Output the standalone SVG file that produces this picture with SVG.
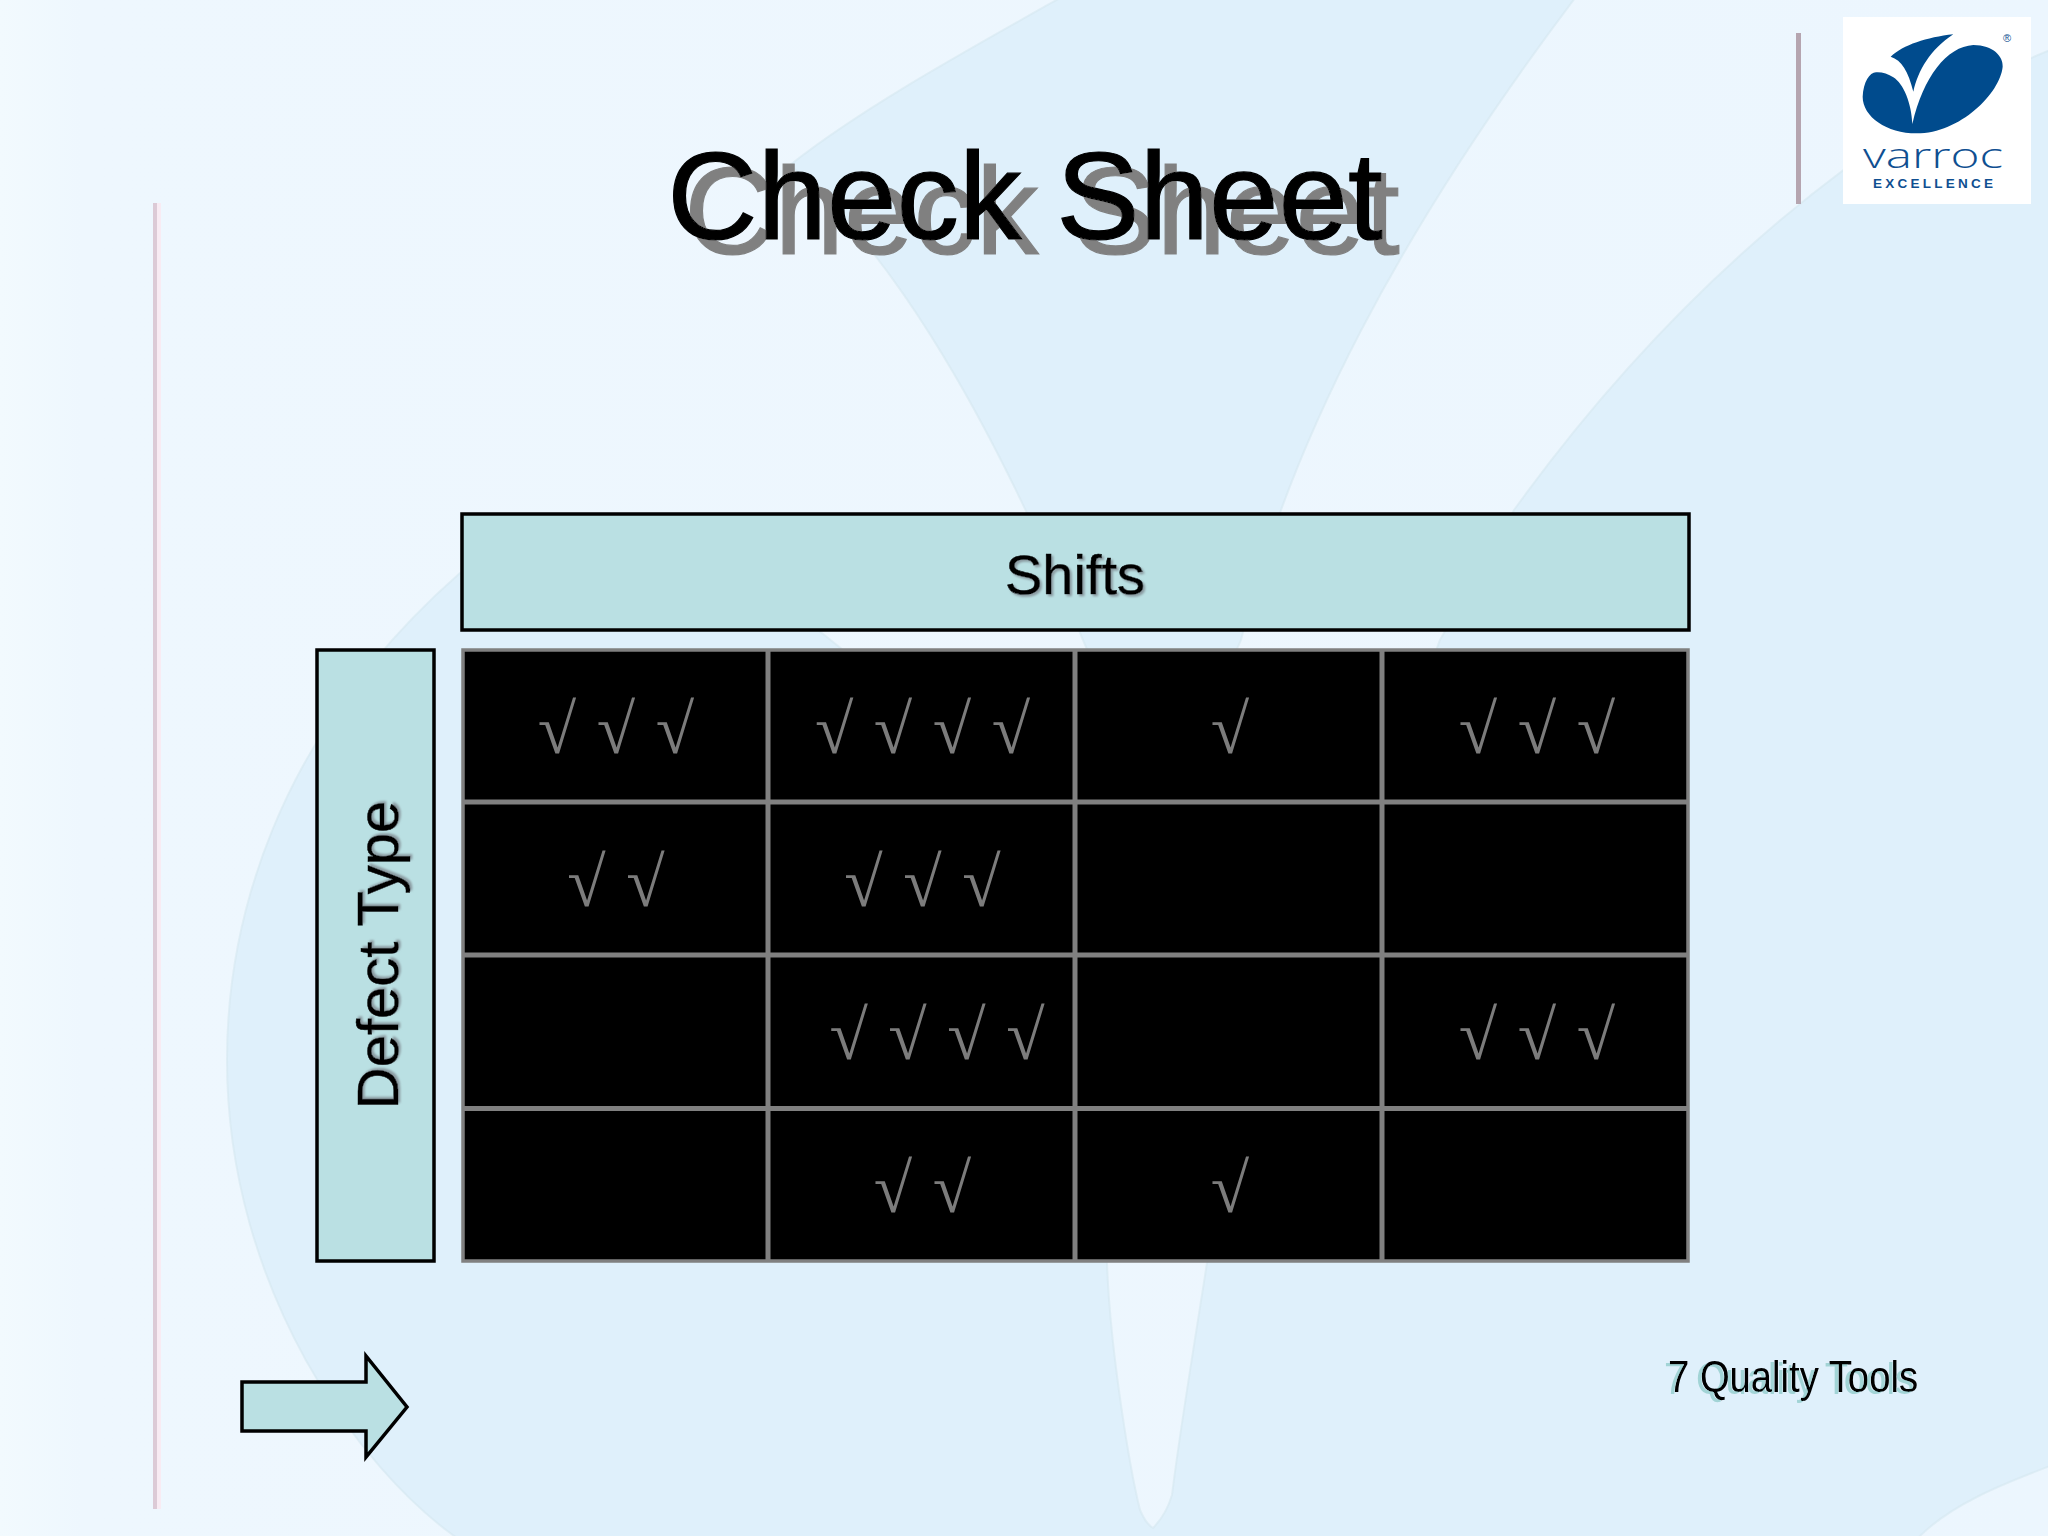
<svg xmlns="http://www.w3.org/2000/svg" width="2048" height="1536" viewBox="0 0 2048 1536">
<defs>
<linearGradient id="edge" x1="0" y1="0" x2="1" y2="0"><stop offset="0" stop-color="#f2fafe"/><stop offset="0.04" stop-color="#eef7fe"/><stop offset="1" stop-color="#ecf6fe"/></linearGradient>
<filter id="titleShadow" x="-10%" y="-20%" width="120%" height="150%"><feDropShadow dx="17" dy="15" stdDeviation="0" flood-color="#808080"/></filter>
<filter id="softShadow" x="-10%" y="-20%" width="120%" height="150%"><feDropShadow dx="2" dy="2" stdDeviation="1" flood-color="#8a9aa0"/></filter>
<filter id="softShadowV" x="-20%" y="-10%" width="150%" height="120%"><feDropShadow dx="2" dy="2" stdDeviation="1" flood-color="#8a9aa0"/></filter>
<filter id="tealShadow" x="-10%" y="-20%" width="120%" height="150%"><feDropShadow dx="-4" dy="2" stdDeviation="0.300" flood-color="#a2d4d6"/></filter>
</defs>
<style>
.wash{fill:#dff0fb;stroke:#d6e7f0;stroke-width:2;stroke-opacity:.6}
.band{fill:#bae0e3;stroke:#000;stroke-width:3.500}
.lbl{font-family:"Liberation Sans",Arial,sans-serif;fill:#000}
.chk{font-family:"Liberation Serif","Times New Roman",serif;font-size:70px;word-spacing:3px;fill:#7c7c7c;text-anchor:middle;white-space:pre}
.grid{stroke:#808080;stroke-width:5;fill:none}
.logoT{font-family:"Liberation Sans",Arial,sans-serif;fill:#0f4f91}
</style>
<g id="background">
<rect width="2048" height="1536" fill="url(#edge)"/>
<path class="wash" d="M457 1538C360 1470 227 1290 227 1060C227 930 270 740 460 573C560 515 700 530 843 650L1107 1263C1110 1350 1130 1470 1140 1510Q1146 1524 1153 1528Q1166 1515 1172 1495C1180 1430 1195 1340 1207 1263L1440 640L1514 510C1680 280 1880 120 2050 50V1466C2000 1485 1950 1505 1918 1538Z"/>
<path class="wash" d="M1060 -2C950 60 860 110 790 165C880 240 980 390 1083 640L1160 820L1241 640C1290 440 1400 230 1575 -2Z"/>
</g>
<g id="rule-left"><rect x="157" y="203" width="4" height="1306" fill="#f8ebf3"/><rect x="153" y="203" width="4" height="1306" fill="#dccad6"/></g>
<g id="rule-top"><rect x="1796" y="33" width="5" height="171" fill="#b5a5b0"/></g>
<g id="logo">
<rect x="1843" y="17" width="188" height="187" fill="#fff"/>
<g transform="translate(1760 0) scale(0.33333)" fill="#004b8d">
<path d="M457 372C455 310 430 250 400 232C385 222 365 216 350 217C330 215 310 245 308 290C308 350 380 400 470 400C600 400 720 280 728 200C730 170 700 135 640 135C560 140 490 230 457 372Z"/>
<path d="M580 103C500 112 430 135 392 170C425 180 445 215 460 275C475 210 510 150 580 103Z"/>
</g>
<text x="1863" y="168" font-family="'Open Sans','Liberation Sans',sans-serif" font-weight="300" fill="#0f4f91" font-size="34" textLength="140" lengthAdjust="spacingAndGlyphs">varroc</text>
<text class="logoT" x="1873" y="188" font-size="13.500" font-weight="700" textLength="120">EXCELLENCE</text>
<text class="logoT" x="2007" y="42" font-size="11" text-anchor="middle">®</text>
</g>
<g id="title"><text class="lbl" x="1025" y="239" font-size="125" stroke="#000" stroke-width="1.200" text-anchor="middle" filter="url(#titleShadow)">Check Sheet</text></g>
<g id="shifts"><rect class="band" x="462" y="514" width="1227" height="116"/><text class="lbl" x="1075" y="594" font-size="56" stroke="#000" stroke-width="0.500" text-anchor="middle" filter="url(#softShadow)">Shifts</text></g>
<g id="defect-type"><rect class="band" x="317" y="650" width="117" height="611"/><text class="lbl" transform="translate(398 955) rotate(-90)" font-size="58" stroke="#000" stroke-width="0.500" text-anchor="middle" filter="url(#softShadowV)">Defect Type</text></g>
<g id="check-table">
<rect x="463" y="650" width="1225" height="611" fill="#000"/>
<path class="grid" d="M768 650V1261M1075 650V1261M1382 650V1261M463 802H1688M463 955H1688M463 1108.500H1688"/>
<rect x="463" y="650" width="1225" height="611" fill="none" stroke="#808080" stroke-width="3.500"/>
<text class="chk" x="616" y="753">√ √ √</text>
<text class="chk" x="922.500" y="753">√ √ √ √</text>
<text class="chk" x="1230" y="753">√</text>
<text class="chk" x="1537" y="753">√ √ √</text>
<text class="chk" x="616" y="906">√ √</text>
<text class="chk" x="922.500" y="906">√ √ √</text>
<text class="chk" x="937" y="1059">√ √ √ √</text>
<text class="chk" x="1537" y="1059">√ √ √</text>
<text class="chk" x="922.500" y="1212">√ √</text>
<text class="chk" x="1230" y="1212">√</text>
</g>
<g id="arrow"><path class="band" d="M242 1382H366V1356L407 1407L366 1457V1431H242Z"/></g>
<g id="footer"><text class="lbl" x="1668" y="1392" font-size="44" textLength="250" lengthAdjust="spacingAndGlyphs" filter="url(#tealShadow)">7 Quality Tools</text></g>
</svg>
